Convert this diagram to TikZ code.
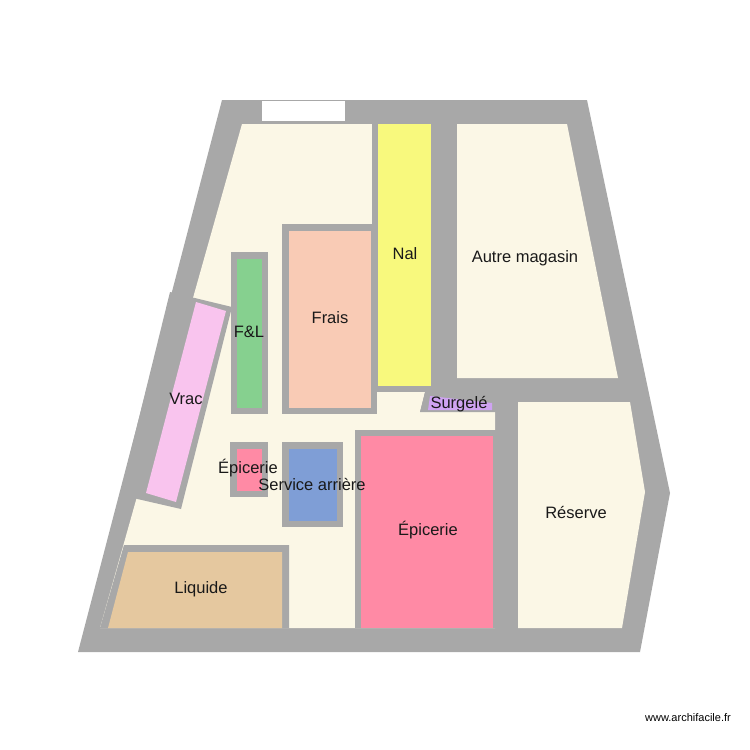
\documentclass[tikz,border=0pt]{standalone}
\usepackage{fontspec}
\setmainfont{Liberation Sans}
\begin{document}
\begin{tikzpicture}[x=1pt,y=-1pt,
  lbl/.style={font=\fontsize{16.5}{18}\selectfont,text=black!90}]
\definecolor{wallc}{HTML}{A8A8A8}
\definecolor{cream}{HTML}{FBF7E6}
\definecolor{nal}{HTML}{F8F97D}
\definecolor{frais}{HTML}{F9CBB5}
\definecolor{fl}{HTML}{86D08F}
\definecolor{vrac}{HTML}{F9C4EE}
\definecolor{epi}{HTML}{FF8AA5}
\definecolor{serv}{HTML}{7F9ED6}
\definecolor{liq}{HTML}{E5C89F}
\definecolor{surg}{HTML}{CFA3F2}
\useasboundingbox (0,0) rectangle (750,750);
\fill[white] (0,0) rectangle (750,750);
% outer walls
\fill[wallc] (222,100) -- (587,100) -- (670,493) -- (640,652) -- (78,652) -- cycle;
\fill[white] (262,101) rectangle (345,121);
% floors
\fill[cream] (242,124) -- (376,124) -- (376,392) -- (425,392) -- (420,412) -- (495,412) -- (495,628) -- (100,628) -- cycle;
\fill[cream] (457,124) -- (567,124) -- (618,378) -- (457,378) -- cycle;
\fill[cream] (518,402) -- (630,402) -- (645,492) -- (622,628) -- (518,628) -- cycle;
% Nal
\fill[wallc] (372,124) rectangle (437,392);
\fill[nal] (378,124) rectangle (431,386);
% Surgele
\fill[wallc] (437,378) rectangle (457,392);
\fill[wallc] (425,392) -- (518,392) -- (518,402) -- (495,402) -- (495,412) -- (420,412) -- cycle;
\fill[surg] (430,396) -- (492,403) -- (492,410) -- (428,410) -- cycle;
% Frais
\fill[wallc] (282,224) rectangle (377,414);
\fill[frais] (289,231) rectangle (371,408);
% F&L
\fill[wallc] (231,252) rectangle (268,414);
\fill[fl] (237,259) rectangle (262,408);
% Vrac
\fill[wallc] (170,292) -- (232,307) -- (181,509) -- (120,495) -- cycle;
\fill[vrac] (196,302) -- (226,311) -- (176,502) -- (146,493) -- cycle;
% small Epicerie
\fill[wallc] (230,442) rectangle (268,497);
\fill[epi] (237,449) rectangle (262,491);
% Service arriere
\fill[wallc] (282,442) rectangle (343,527);
\fill[serv] (289,449) rectangle (337,521);
% big Epicerie
\fill[wallc] (355,430) rectangle (518,628);
\fill[epi] (361,436) rectangle (493,628);
% Liquide
\fill[wallc] (124,545) -- (289,545) -- (289,628) -- (100,628) -- cycle;
\fill[liq] (128,552) -- (282,552) -- (282,628) -- (108,628) -- cycle;
% labels
\node[lbl] (nal) at (405,254) {Nal};
\node[lbl] (autre) at (525,258) {Autre magasin};
\node[lbl] (surg) at (459,404) {Surgelé};
\node[lbl] (frais) at (330,318) {Frais};
\node[lbl] (fl) at (249,332) {F\&L};
\node[lbl] (vrac) at (186,399) {Vrac};
\node[lbl] (epi1) at (248,468) {Épicerie};
\node[lbl] (serv) at (312,484) {Service arrière};
\node[lbl] (epi2) at (428,530) {Épicerie};
\node[lbl] (res) at (576,512) {Réserve};
\node[lbl] (liq) at (201,589) {Liquide};
\node[font=\fontsize{11}{13}\selectfont] (www) at (688,718) {www.archifacile.fr};
\end{tikzpicture}
\end{document}
